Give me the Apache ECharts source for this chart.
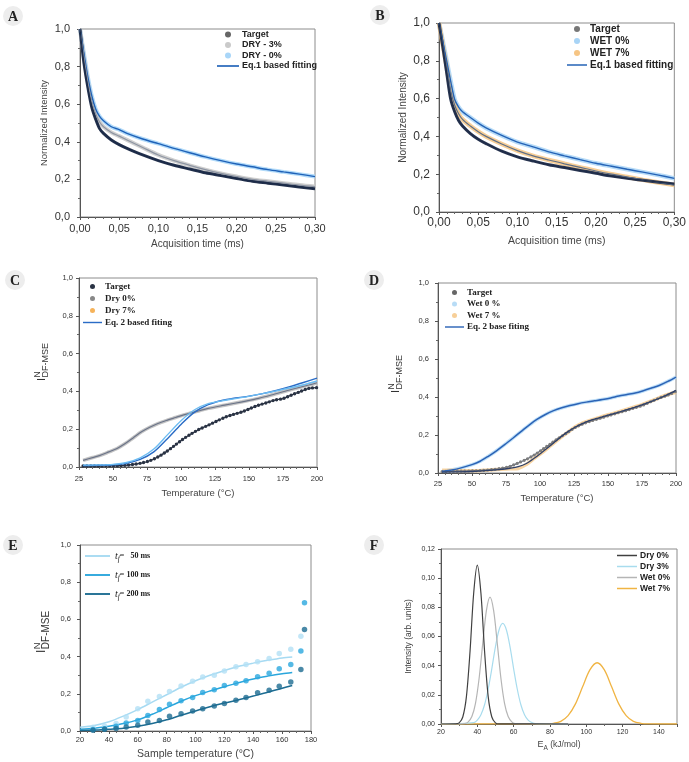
<!DOCTYPE html>
<html><head><meta charset="utf-8">
<script src="https://cdn.jsdelivr.net/npm/echarts@6/dist/echarts.min.js"></script>
<style>html,body{margin:0;padding:0;background:#fff}#c{width:689px;height:762px}</style>
</head><body><div id="c"></div>
<script>
// ---------- Panel A / B (acquisition time, ms) ----------
const tAB = [0,0.005,0.01,0.015,0.02,0.025,0.03,0.04,0.05,0.06,0.08,0.10,0.12,0.14,0.16,0.18,0.20,0.22,0.24,0.26,0.28,0.30];
const aTarget = [1.0,0.82,0.69,0.584,0.52,0.47,0.445,0.41,0.385,0.365,0.33,0.30,0.275,0.255,0.235,0.22,0.205,0.19,0.18,0.17,0.16,0.15];
const aDry3   = [1.0,0.85,0.72,0.615,0.55,0.505,0.48,0.45,0.43,0.41,0.37,0.33,0.30,0.275,0.252,0.232,0.215,0.20,0.19,0.18,0.17,0.162];
const aDry0   = [1.0,0.87,0.745,0.645,0.575,0.535,0.512,0.48,0.465,0.445,0.415,0.39,0.365,0.342,0.32,0.30,0.282,0.267,0.252,0.24,0.228,0.215];
const bTarget = [1.0,0.87,0.73,0.595,0.53,0.484,0.455,0.415,0.385,0.362,0.322,0.292,0.27,0.25,0.235,0.22,0.205,0.19,0.178,0.168,0.158,0.148];
const bWet0   = [1.0,0.90,0.795,0.69,0.595,0.555,0.53,0.50,0.47,0.445,0.405,0.37,0.345,0.318,0.297,0.277,0.258,0.242,0.226,0.211,0.195,0.178];
const bWet7   = [1.0,0.88,0.765,0.64,0.565,0.52,0.49,0.455,0.425,0.40,0.36,0.325,0.297,0.275,0.255,0.236,0.217,0.20,0.185,0.17,0.156,0.143];
// ---------- Panel C (temperature, °C) ----------
const cTargetX = [28,35,40,45,50,55,59,65,71,77,83,89,95,101,107,113,120,126,132,138,145,151,157,163,169,175,181,187,194,200];
const cTarget  = [0.005,0.005,0.005,0.006,0.006,0.007,0.009,0.014,0.021,0.033,0.053,0.08,0.112,0.145,0.173,0.198,0.221,0.242,0.262,0.277,0.292,0.31,0.327,0.34,0.354,0.362,0.38,0.397,0.416,0.42];
const cDry0X = [28,35,40,47,53,59,65,71,77,83,90,96,102,108,114,120,132,145,157,169,181,194,200];
const cDry0  = [0.035,0.05,0.06,0.08,0.098,0.124,0.155,0.186,0.21,0.23,0.248,0.262,0.276,0.287,0.299,0.31,0.327,0.345,0.363,0.386,0.41,0.434,0.446];
const cDry7X = [];
const cDry7  = [];
const cFitX     = [28,40,50,60,70,80,90,100,110,120,130,140,150,160,170,180,190,200];
const cFitBlue  = [0.008,0.009,0.012,0.02,0.04,0.08,0.15,0.225,0.29,0.33,0.352,0.365,0.375,0.388,0.405,0.425,0.447,0.47];
const cFitLight = [0.01,0.011,0.014,0.024,0.048,0.095,0.17,0.245,0.303,0.335,0.35,0.362,0.374,0.388,0.403,0.418,0.435,0.455];
// ---------- Panel D ----------
const dWet0X = [28,35,42,50,56,62,68,74,80,86,92,98,104,110,116,122,128,134,140,146,152,158,164,170,176,182,188,194,200];
const dWet0  = [0.009,0.016,0.027,0.044,0.062,0.088,0.117,0.149,0.183,0.218,0.252,0.283,0.308,0.328,0.343,0.355,0.365,0.373,0.38,0.387,0.395,0.405,0.413,0.421,0.433,0.447,0.462,0.482,0.505];
const dX      = [28,35,42,50,58,65,72,78,84,90,96,102,108,114,120,126,132,138,145,151,157,163,169,175,182,188,194,200];
const dTarget = [0.008,0.009,0.01,0.011,0.014,0.018,0.025,0.035,0.053,0.072,0.096,0.125,0.155,0.185,0.212,0.24,0.26,0.275,0.29,0.303,0.316,0.328,0.342,0.355,0.377,0.395,0.41,0.43];
const dWet7   = [0.015,0.014,0.012,0.012,0.014,0.017,0.02,0.022,0.024,0.045,0.078,0.11,0.145,0.18,0.212,0.243,0.265,0.28,0.295,0.308,0.32,0.333,0.347,0.36,0.38,0.397,0.413,0.425];
const dFit7X = [28,40,50,60,70,78,84,90,96,102,108,114,120,126,132,140,150,160,170,180,190,200];
const dFit7  = [0.005,0.006,0.008,0.012,0.018,0.025,0.033,0.05,0.079,0.112,0.146,0.182,0.215,0.242,0.263,0.283,0.304,0.325,0.347,0.372,0.40,0.435];
// ---------- Panel E ----------
const eT   = [29,37,45,52,60,67,75,82,90,98,105,113,120,128,135,143,151,158,166,173];
const e50  = [0.02,0.025,0.04,0.075,0.12,0.16,0.185,0.212,0.242,0.268,0.29,0.30,0.323,0.345,0.357,0.372,0.39,0.417,0.44,0.51];
const e100 = [0.008,0.012,0.025,0.043,0.057,0.084,0.115,0.144,0.162,0.18,0.207,0.222,0.244,0.257,0.27,0.292,0.31,0.335,0.358,0.43];
const e200 = [0.004,0.009,0.014,0.022,0.031,0.048,0.057,0.079,0.093,0.108,0.12,0.135,0.148,0.165,0.18,0.205,0.219,0.24,0.264,0.33];
const eEndT = [175.5];
const e100End = [0.69];
const e200End = [0.546];
const eFitT   = [20,30,40,50,60,70,80,90,100,110,120,130,140,150,160,167];
const eFit50  = [0.02,0.03,0.05,0.08,0.115,0.155,0.195,0.235,0.27,0.30,0.325,0.348,0.365,0.38,0.393,0.398];
const eFit100 = [0.01,0.015,0.025,0.04,0.06,0.09,0.125,0.16,0.19,0.215,0.238,0.26,0.28,0.295,0.308,0.315];
const eFit200 = [0.003,0.005,0.01,0.015,0.025,0.04,0.06,0.085,0.108,0.13,0.15,0.168,0.188,0.208,0.23,0.245];
// ---------- Panel F (E_A, kJ/mol) ----------
const fDry0X = [20,28,30,32,34,36,38,40,42,44,46,48,50,52,90];
const fDry0  = [0,0.0001,0.0008,0.0048,0.0188,0.0499,0.0897,0.109,0.0897,0.0499,0.0188,0.0048,0.0008,0.0001,0];
const fWet0X = [20,33,35,37,39,41,43,45,47,49,51,53,55,57,59,61,90];
const fWet0  = [0,0.0003,0.0015,0.0051,0.0142,0.0314,0.0553,0.0777,0.087,0.0777,0.0553,0.0314,0.0142,0.0051,0.0015,0.0003,0];
const fDry3X = [20,38,40,42,44,46,48,50,52,54,56,58,60,62,64,66,68,70,72,90];
const fDry3  = [0,0.001,0.0027,0.0064,0.0132,0.024,0.038,0.053,0.0646,0.069,0.0646,0.053,0.038,0.024,0.0132,0.0064,0.0027,0.001,0.0003,0];
const fWet7X = [20,78,82,86,90,94,98,102,106,110,114,118,122,126,130,134,150];
const fWet7  = [0,0.0001,0.0005,0.0018,0.0057,0.0136,0.0255,0.0371,0.042,0.0371,0.0255,0.0136,0.0057,0.0018,0.0005,0.0001,0];

const SANS = '"Liberation Sans", Arial, sans-serif';
const SERIF = '"Liberation Serif", "Times New Roman", serif';
const LINE_ICON = 'path://M0,0H40V3H0Z';
const zip = (xs, ys) => xs.map((x, i) => [x, ys[i]]);
const fmt = d => v => v.toFixed(d).replace('.', ',');

function line(name, gi, xs, ys, color, width, op, z, ls) {
  return { type: 'line', name, xAxisIndex: gi, yAxisIndex: gi, data: zip(xs, ys),
    symbol: 'none', showSymbol: false, smooth: 0.3, color, silent: true, animation: false,
    lineStyle: Object.assign({ color, width, opacity: op == null ? 1 : op }, ls || {}), z: z || 2 };
}
function dots(name, gi, xs, ys, color, size) {
  return { type: 'scatter', name, xAxisIndex: gi, yAxisIndex: gi, data: zip(xs, ys),
    symbol: 'circle', symbolSize: size, itemStyle: { color }, silent: true, animation: false, z: 4 };
}
function xa(gi, min, max, interval, dec, fs, margin, name, gap, nfs, minor, extra) {
  return Object.assign({ type: 'value', gridIndex: gi, min, max, interval,
    axisLine: { show: true, onZero: false, lineStyle: { color: '#555', width: 1 } },
    axisTick: { show: true, length: 3, lineStyle: { color: '#555' } },
    minorTick: { show: true, splitNumber: minor, length: 2, lineStyle: { color: '#666' } },
    splitLine: { show: false },
    axisLabel: { fontSize: fs, color: '#333', fontFamily: SANS, margin, formatter: fmt(dec) },
    name, nameLocation: 'middle', nameGap: gap,
    nameTextStyle: { fontSize: nfs, color: '#444', fontFamily: SANS } }, extra || {});
}
function ya(gi, min, max, interval, dec, fs, margin, name, gap, nfs, minor) {
  return { type: 'value', gridIndex: gi, min, max, interval,
    axisLine: { show: true, onZero: false, lineStyle: { color: '#555', width: 1 } },
    axisTick: { show: true, length: 3, lineStyle: { color: '#555' } },
    minorTick: { show: true, splitNumber: minor, length: 2, lineStyle: { color: '#666' } },
    splitLine: { show: false },
    axisLabel: { fontSize: fs, color: '#333', fontFamily: SANS, margin, formatter: fmt(dec) },
    name, nameLocation: 'middle', nameGap: gap, nameRotate: 90,
    nameTextStyle: { fontSize: nfs, color: '#444', fontFamily: SANS } };
}
function leg(left, top, data, font, fs, bold, gap, iw, ih) {
  return { left, top, orient: 'vertical', padding: 0, itemGap: gap, itemWidth: iw, itemHeight: ih,
    data, formatter: n => n.slice(2), selectedMode: false,
    textStyle: { fontSize: fs, fontWeight: bold ? 'bold' : 'normal', color: '#222', fontFamily: font, padding: [0, 0, 0, -2] } };
}
function badge(cx, cy, t) {
  return [
    { type: 'circle', shape: { cx, cy, r: 10 }, style: { fill: '#ededed' }, silent: true },
    { type: 'text', x: cx, y: cy + 1, style: { text: t, fontSize: 14, fontWeight: 'bold', fontFamily: SERIF, fill: '#222', align: 'center', verticalAlign: 'middle' }, silent: true }
  ];
}
function yname(x, y, fi, fs) {
  return { type: 'group', x, y, rotation: Math.PI / 2, silent: true, children: [
    { type: 'text', x: 0, y: 0, style: { text: 'I', fontSize: fi, fontFamily: SANS, fill: '#333', align: 'left', verticalAlign: 'middle' } },
    { type: 'text', x: fi * 0.32, y: -fi * 0.42, style: { text: 'N', fontSize: fs * 0.95, fontFamily: SANS, fill: '#333', align: 'left', verticalAlign: 'middle' } },
    { type: 'text', x: fi * 0.32, y: fi * 0.32, style: { text: 'DF-MSE', fontSize: fs, fontFamily: SANS, fill: '#333', align: 'left', verticalAlign: 'middle' } }
  ] };
}

const beads = { type: [0, 3.8], cap: 'round' };

const series = [
  // A
  line('A:DRY - 0%', 0, tAB, aDry0, '#a9d6f8', 4, 0.9, 2),
  line('A:DRY - 3%', 0, tAB, aDry3, '#cacaca', 4, 0.9, 2),
  line('A:Target', 0, tAB, aTarget, '#27344f', 3, 1, 3),
  line('A:Eq.1 based fitting', 0, tAB, aDry0, '#1f62b8', 1.4, 1, 5),
  line('A:_f3', 0, tAB, aDry3, '#8d95a3', 1.2, 1, 5),
  line('A:_ft', 0, tAB, aTarget, '#1a2a48', 1.2, 1, 5),
  // B
  line('B:WET 0%', 1, tAB, bWet0, '#a8d4f6', 4.5, 0.85, 2),
  line('B:WET 7%', 1, tAB, bWet7, '#f6c584', 4.5, 0.85, 2),
  line('B:Target', 1, tAB, bTarget, '#2a3652', 3, 1, 3),
  line('B:Eq.1 based fitting', 1, tAB, bWet0, '#2563b6', 1.4, 1, 5),
  line('B:_f7', 1, tAB, bWet7, '#5f6f86', 1.2, 1, 5),
  line('B:_ft', 1, tAB, bTarget, '#1e2c48', 1.2, 1, 5),
  // C
  line('C:Dry 0%', 2, cDry0X, cDry0, '#bdbdbd', 3.5, 0.9, 2),
  line('C:_fd0', 2, cDry0X, cDry0, '#6b7489', 1.2, 1, 3),
  line('C:_tl', 2, cTargetX, cTarget, '#2a3344', 1.3, 1, 3),
  line('C:Target', 2, cTargetX, cTarget, '#2a3344', 3.4, 1, 4, beads),
  line('C:Dry 7%', 2, cDry7X, cDry7, '#f6b35a', 1, 1, 2),
  line('C:Eq. 2 based fiting', 2, cFitX, cFitBlue, '#2a6cc6', 1.4, 1, 5),
  line('C:_fl', 2, cFitX, cFitLight, '#6cbcf2', 1.4, 1, 5),
  // D
  line('D:Wet 0 %', 3, dWet0X, dWet0, '#b8dcf6', 3.5, 0.9, 2),
  line('D:Wet 7 %', 3, dX, dWet7, '#f7cf98', 3.5, 0.9, 2),
  line('D:_tl', 3, dX, dTarget, '#5a6276', 1.2, 1, 3),
  line('D:Target', 3, dX, dTarget, '#7d7d7d', 3.2, 1, 4, beads),
  line('D:Eq. 2 base fiting', 3, dWet0X, dWet0, '#2b63b6', 1.5, 1, 5),
  line('D:_f7', 3, dFit7X, dFit7, '#2f4068', 1.3, 1, 5),
  // E
  line('E:50', 4, eFitT, eFit50, '#a6daf2', 1.5, 1, 3),
  line('E:100', 4, eFitT, eFit100, '#2aa6dc', 1.5, 1, 3),
  line('E:200', 4, eFitT, eFit200, '#1c6c92', 1.5, 1, 3),
  dots('E:p50', 4, eT, e50, '#b3e0f5', 5.5),
  dots('E:p100', 4, eT.concat(eEndT), e100.concat(e100End), '#2aa7de', 5.5),
  dots('E:p200', 4, eT.concat(eEndT), e200.concat(e200End), '#1d6b91', 5.5),
  // F
  line('F:Wet 7%', 5, fWet7X, fWet7, '#f0b443', 1.3, 1, 2),
  line('F:Dry 3%', 5, fDry3X, fDry3, '#a8dcee', 1.2, 1, 3),
  line('F:Wet 0%', 5, fWet0X, fWet0, '#b5b5b5', 1.2, 1, 3),
  line('F:Dry 0%', 5, fDry0X, fDry0, '#404040', 1.2, 1, 4)
];

const eLegendText = { 'E:50': '=   50 ms', 'E:100': '= 100 ms', 'E:200': '= 200 ms' };
const li = n => ({ name: n, icon: LINE_ICON });

const option = {
  backgroundColor: '#fff',
  animation: false,
  grid: [
    { left: 80, top: 29, width: 235, height: 188 },
    { left: 439, top: 23, width: 238, height: 189 },
    { left: 79, top: 278, width: 238, height: 189 },
    { left: 438, top: 283, width: 238, height: 190 },
    { left: 80, top: 545, width: 231, height: 186 },
    { left: 441, top: 549, width: 236, height: 175 }
  ].map(g => Object.assign(g, { show: true, borderColor: '#8c8c8c', borderWidth: 1, backgroundColor: 'transparent' })),
  xAxis: [
    xa(0, 0, 0.3, 0.05, 2, 11, 6, 'Acquisition time (ms)', 22, 10, 5),
    xa(1, 0, 0.3, 0.05, 2, 12, 5, 'Acquisition time (ms)', 24, 10.5, 5),
    xa(2, 25, 200, 25, 0, 7.5, 8, 'Temperature (°C)', 21, 9.5, 5),
    xa(3, 25, 200, 25, 0, 7.5, 7, 'Temperature (°C)', 20, 9.5, 5),
    xa(4, 20, 180, 20, 0, 7.5, 5, 'Sample temperature (°C)', 18, 10.5, 4),
    xa(5, 20, 150, 20, 0, 7, 5, '{e|E}{s|A}{n| (kJ/mol)}', 14, 8.5, 2, {
      axisLabel: { fontSize: 7, color: '#333', fontFamily: SANS, margin: 5, showMaxLabel: false, formatter: fmt(0) },
      nameTextStyle: { color: '#444', fontFamily: SANS, rich: {
        e: { fontSize: 9, lineHeight: 14, verticalAlign: 'middle', fontFamily: SANS, color: '#444' },
        s: { fontSize: 6.5, lineHeight: 14, verticalAlign: 'bottom', fontFamily: SANS, color: '#444' },
        n: { fontSize: 8.5, lineHeight: 14, verticalAlign: 'middle', fontFamily: SANS, color: '#444' } } } })
  ],
  yAxis: [
    ya(0, 0, 1, 0.2, 1, 11, 10, 'Normalized Intensity', 31, 9.5, 2),
    ya(1, 0, 1, 0.2, 1, 12, 9, 'Normalized Intensity', 31, 10, 2),
    ya(2, 0, 1, 0.2, 1, 7.5, 6, '', 30, 9, 2),
    ya(3, 0, 1, 0.2, 1, 7.5, 9, '', 30, 9, 2),
    ya(4, 0, 1, 0.2, 1, 7.5, 9, '', 30, 9, 2),
    ya(5, 0, 0.12, 0.02, 2, 7, 6, 'Intensity (arb. units)', 28, 8.5, 2)
  ],
  legend: [
    leg(217, 30, [
      { name: 'A:Target', icon: 'circle', itemStyle: { color: '#666' } },
      { name: 'A:DRY - 3%', icon: 'circle' },
      { name: 'A:DRY - 0%', icon: 'circle' },
      li('A:Eq.1 based fitting')], SANS, 9, true, 1.5, 22, 6),
    leg(567, 24, [
      { name: 'B:Target', icon: 'circle', itemStyle: { color: '#777' } },
      { name: 'B:WET 0%', icon: 'circle' },
      { name: 'B:WET 7%', icon: 'circle' },
      li('B:Eq.1 based fitting')], SANS, 10, true, 2, 20, 6),
    leg(83, 282, [
      { name: 'C:Target', icon: 'circle' },
      { name: 'C:Dry 0%', icon: 'circle', itemStyle: { color: '#888' } },
      { name: 'C:Dry 7%', icon: 'circle' },
      li('C:Eq. 2 based fiting')], SERIF, 9, true, 3, 19, 5),
    leg(445, 288, [
      { name: 'D:Target', icon: 'circle', itemStyle: { color: '#666' } },
      { name: 'D:Wet 0 %', icon: 'circle' },
      { name: 'D:Wet 7 %', icon: 'circle' },
      li('D:Eq. 2 base fiting')], SERIF, 9, true, 2.5, 19, 5),
    Object.assign(leg(85, 551, [li('E:50'), li('E:100'), li('E:200')], SERIF, 8, true, 7, 25, 6), {
      formatter: n => '{t|t}{f|f}{r|' + eLegendText[n] + '}',
      textStyle: { color: '#222', fontFamily: SERIF, rich: {
        t: { fontSize: 10, fontStyle: 'italic', fontFamily: SERIF, color: '#222', lineHeight: 14, verticalAlign: 'middle' },
        f: { fontSize: 7.5, fontStyle: 'italic', fontFamily: SERIF, color: '#222', lineHeight: 14, verticalAlign: 'bottom' },
        r: { fontSize: 8, fontWeight: 'bold', fontFamily: SERIF, color: '#222', lineHeight: 14, verticalAlign: 'middle' } } } }),
    leg(617, 551, [li('F:Dry 0%'), li('F:Dry 3%'), li('F:Wet 0%'), li('F:Wet 7%')], SANS, 8.5, true, 2, 20, 8)
  ],
  graphic: [].concat(
    badge(13, 16, 'A'), badge(380, 15, 'B'), badge(15, 280, 'C'), badge(374, 280, 'D'),
    badge(13, 545, 'E'), badge(374, 545, 'F'),
    [yname(42, 381, 11, 9), yname(396, 393, 11, 9), yname(42, 653, 12, 10)]
  ),
  series
};
const chart = echarts.init(document.getElementById('c'), null, { renderer: 'canvas' });
chart.setOption(option);
</script>
</body></html>
